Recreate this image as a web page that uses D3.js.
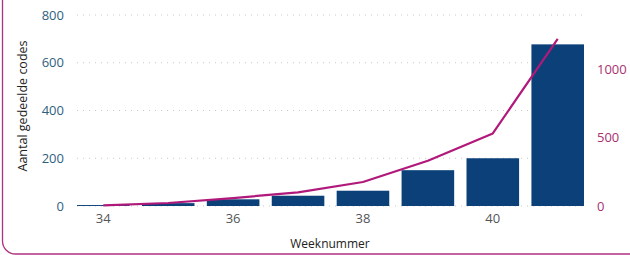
<!DOCTYPE html>
<html>
<head>
<meta charset="utf-8">
<script src="https://cdn.jsdelivr.net/npm/d3@7"></script>
<style>
  body { margin: 0; background: #fff; }
  text { font-family: "Open Sans", sans-serif; }
</style>
</head>
<body>
<svg id="chart" width="630" height="255"></svg>
<script>
var weeks = [34, 35, 36, 37, 38, 39, 40, 41];
var codes = [4, 12, 28, 43, 64, 150, 200, 677];
var cumulative = [4, 22, 58, 100, 175, 330, 530, 1220];
var leftTicks = [0, 200, 400, 600, 800];
var rightTicks = [0, 500, 1000];
var xTickWeeks = [34, 36, 38, 40];

var svg = d3.select("#chart");

// rounded frame, only left edge visible
svg.append("rect")
    .attr("x", 2.5).attr("y", -20)
    .attr("width", 700).attr("height", 274)
    .attr("rx", 13)
    .attr("fill", "none")
    .attr("stroke", "#b0327f")
    .attr("stroke-width", 1.3);

var x = d3.scaleBand()
    .range([70.5, 590.5])
    .domain(weeks)
    .paddingInner(0.19)
    .paddingOuter(0.1);

var yL = d3.scaleLinear()
    .range([206, 15])
    .domain([0, 800]);

var yR = d3.scaleLinear()
    .range([206, 69])
    .domain([0, 1000]);

// dotted grid
svg.append("g").selectAll("line")
    .data(leftTicks)
    .enter().append("line")
    .attr("x1", 77).attr("x2", 585)
    .attr("y1", function(d) { return yL(d); })
    .attr("y2", function(d) { return yL(d); })
    .attr("stroke", "#c8c8c8")
    .attr("stroke-width", 1)
    .attr("stroke-dasharray", "1,5");

// left axis
var gl = svg.append("g")
    .attr("transform", "translate(64,0)")
    .call(d3.axisLeft(yL).tickValues(leftTicks).tickSize(0).tickPadding(0));
gl.select(".domain").remove();
gl.selectAll("text")
    .attr("fill", "#2f5f80")
    .style("font-size", "13px");

// right axis
var gr = svg.append("g")
    .attr("transform", "translate(597,0)")
    .call(d3.axisRight(yR).tickValues(rightTicks).tickFormat(d3.format("d")).tickSize(0).tickPadding(0));
gr.select(".domain").remove();
gr.selectAll("text")
    .attr("fill", "#a8306f")
    .style("font-size", "13px");

// bars
svg.append("g").selectAll("rect")
    .data(weeks)
    .enter().append("rect")
    .attr("x", function(d) { return x(d); })
    .attr("y", function(d, i) { return yL(codes[i]); })
    .attr("width", x.bandwidth())
    .attr("height", function(d, i) { return yL(0) - yL(codes[i]); })
    .attr("fill", "#0b4079");

// bottom axis
var gb = svg.append("g")
    .attr("transform", "translate(0,214)")
    .call(d3.axisBottom(x).tickValues(xTickWeeks).tickSize(0).tickPadding(0));
gb.select(".domain").remove();
gb.selectAll("text")
    .attr("fill", "#555")
    .style("font-size", "13px");

// line
var line = d3.line()
    .x(function(d, i) { return x(weeks[i]) + x.bandwidth() / 2; })
    .y(function(d) { return yR(d); });

svg.append("path")
    .datum(cumulative)
    .attr("d", line)
    .attr("fill", "none")
    .attr("stroke", "#b0197a")
    .attr("stroke-width", 2.2)
    .attr("stroke-linejoin", "round");

// axis titles
svg.append("text")
    .attr("transform", "translate(27,106) rotate(-90)")
    .attr("text-anchor", "middle")
    .attr("fill", "#222")
    .style("font-size", "12.5px")
    .text("Aantal gedeelde codes");

svg.append("text")
    .attr("x", 330).attr("y", 248)
    .attr("text-anchor", "middle")
    .attr("fill", "#222")
    .style("font-size", "12px")
    .text("Weeknummer");
</script>
</body>
</html>
